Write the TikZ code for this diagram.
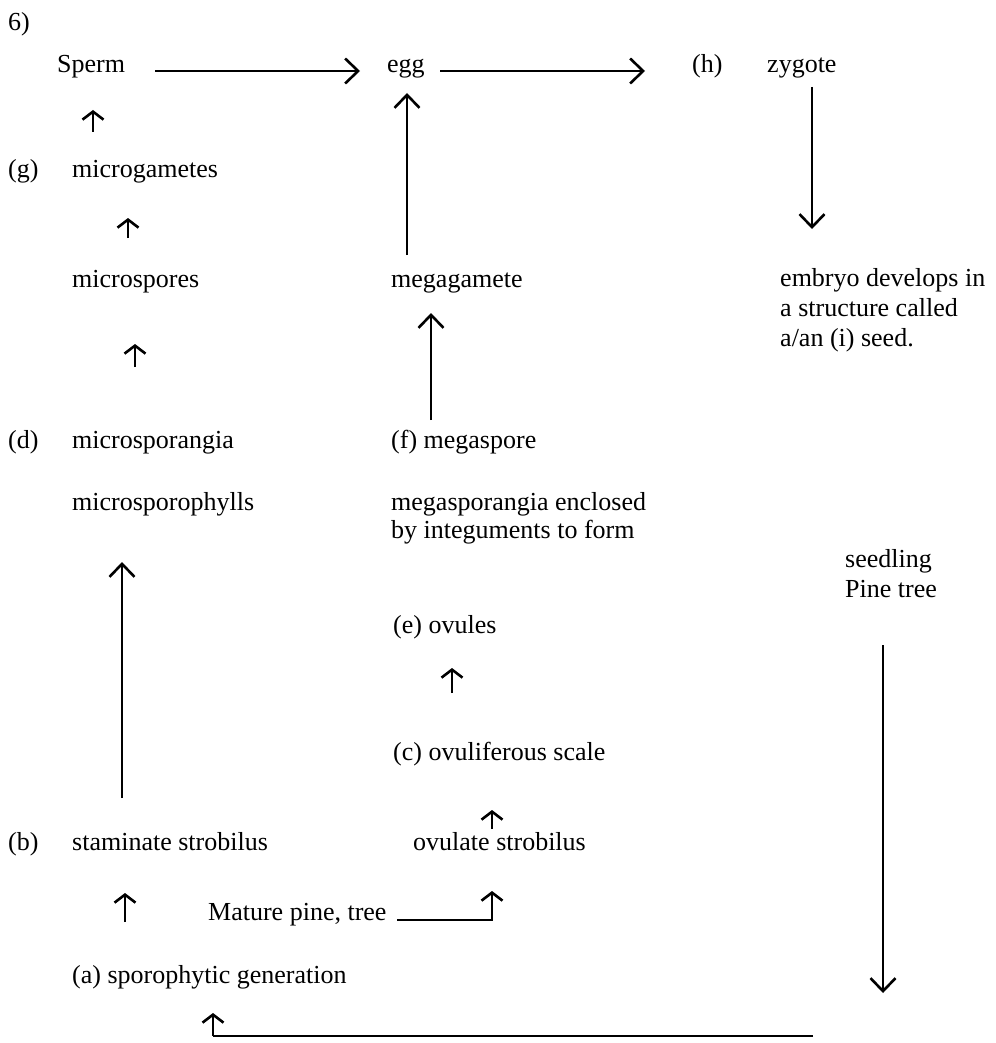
\documentclass[tikz,border=0pt]{standalone}
\usepackage{fontspec}
\setmainfont{Liberation Serif}
\usetikzlibrary{arrows.meta,calc}
\begin{document}
\begin{tikzpicture}[x=1pt,y=-1pt,
  lbl/.style={anchor=base west, inner sep=0pt, font=\fontsize{26}{30}\selectfont, align=left},
  flow/.style={line width=2.8pt, -{Straight Barb[length=13pt,width=25pt,line width=2.6pt]}},
  tick/.style={line width=2.6pt, -{Straight Barb[length=8pt,width=21pt,line width=2.6pt]}},
  plain/.style={line width=2.8pt}]
\useasboundingbox (0,0) rectangle (995,1043);

% labels, placed by left edge and baseline (last line for multi-line labels)
\node[lbl] (six)    at (8,31)    {6)};
\node[lbl] (sperm)  at (57,73)   {Sperm};
\node[lbl] (egg)    at (387,73)  {egg};
\node[lbl] (h)      at (692,73)  {(h)};
\node[lbl] (zyg)    at (767,73)  {zygote};
\node[lbl] (g)      at (8,178)   {(g)};
\node[lbl] (mgam)   at (72,178)  {microgametes};
\node[lbl] (mspo)   at (72,287)  {microspores};
\node[lbl] (megam)  at (391,287) {megagamete};
\node[lbl] (embryo) at (780,346) {embryo develops in\\a structure called\\a/an (i) seed.};
\node[lbl] (d)      at (8,448)   {(d)};
\node[lbl] (mrang)  at (72,448)  {microsporangia};
\node[lbl] (megsp)  at (391,448) {(f) megaspore};
\node[lbl] (mphyl)  at (72,510)  {microsporophylls};
\node[lbl, font=\fontsize{26}{28.5}\selectfont] (megang) at (391,538.5) {megasporangia enclosed\\by integuments to form};
\node[lbl] (seedl)  at (845,597) {seedling\\Pine tree};
\node[lbl] (ovules) at (393,633) {(e) ovules};
\node[lbl] (ovsc)   at (393,760) {(c) ovuliferous scale};
\node[lbl] (b)      at (8,850)   {(b)};
\node[lbl] (stam)   at (72,850)  {staminate strobilus};
\node[lbl] (ovul)   at (413,850) {ovulate strobilus};
\node[lbl] (mature) at (208,920) {Mature pine, tree};
\node[lbl] (spor)   at (72,983)  {(a) sporophytic generation};

% free ends of the return loop
\coordinate (drop) at (883,993);
\coordinate (turn) at (813,1036);

% long connectors
\draw[flow] ($(sperm.base west)+(98,-2)$) -- ($(egg.base west)+(-27,-2)$);
\draw[flow] ($(egg.base west)+(53,-2)$) -- ($(h.base west)+(-47,-2)$);
\draw[flow] ($(zyg.base west)+(45,14)$) -- ($(embryo.base west)+(32,-117)$);
\draw[flow] ($(megam.base west)+(16,-32)$) -- ($(egg.base west)+(20,20)$);
\draw[flow] ($(megsp.base west)+(40,-28)$) -- ($(megam.base west)+(40,26)$);
\draw[flow] ($(stam.base west)+(50,-52)$) -- ($(mphyl.base west)+(50,52)$);
\draw[flow] ($(seedl.base west)+(38,48)$) -- (drop);
\draw[plain] (turn) -- ($(spor.base west)+(141,53)$)
  coordinate (corner);
\draw[tick] (corner) -- ($(spor.base west)+(141,30)$);
\draw[tick] ($(mature.base west)+(189,0)$) -| ($(ovul.base west)+(79,41)$);

% short arrows between neighbouring labels
\draw[tick] ($(mgam.base west)+(21,-46)$) -- ($(sperm.base west)+(36,37)$);
\draw[tick] ($(mspo.base west)+(56,-49)$) -- ($(mgam.base west)+(56,40)$);
\draw[tick] ($(mrang.base west)+(63,-81)$) -- ($(mspo.base west)+(63,57)$);
\draw[tick] ($(ovsc.base west)+(59,-67)$) -- ($(ovules.base west)+(59,35)$);
\draw[tick] ($(ovul.base west)+(79,-21)$) -- ($(ovsc.base west)+(99,50)$);
\draw[tick] ($(stam.base west)+(53,72)$) -- ($(stam.base west)+(53,43)$);
\end{tikzpicture}
\end{document}
